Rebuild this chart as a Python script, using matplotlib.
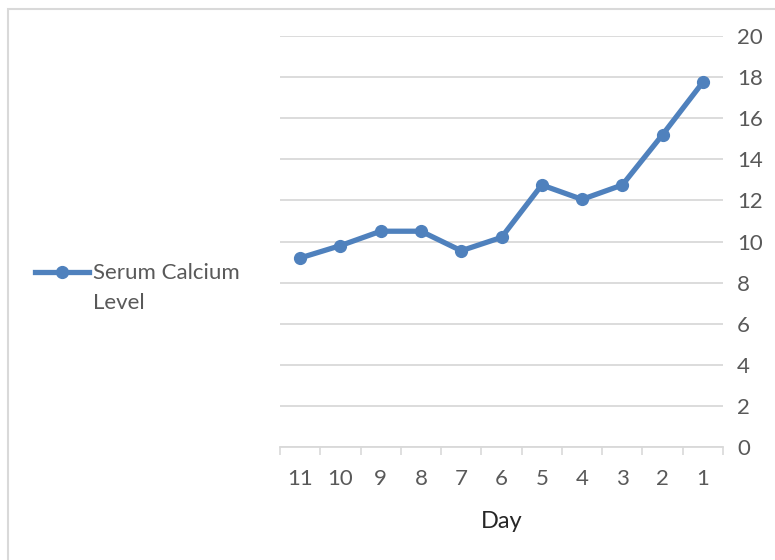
import matplotlib
matplotlib.use("Agg")
import matplotlib.pyplot as plt
import matplotlib.patches as patches
from matplotlib.lines import Line2D
from matplotlib.ticker import MultipleLocator

# data
days = [11, 10, 9, 8, 7, 6, 5, 4, 3, 2, 1]
calcium = [9.2, 9.8, 10.5, 10.5, 9.55, 10.2, 12.75, 12.05, 12.75, 15.2, 17.75]
series_name = "Serum Calcium\nLevel"

line_color = "#4F81BD"
text_color = "#595959"
grid_color = "#D9D9D9"

plt.rcParams["font.family"] = ["Lato", "DejaVu Sans"]

fig = plt.figure(figsize=(7.75, 5.6), dpi=100)
ax = fig.add_axes([280 / 775, 1 - 447 / 560, (723 - 280) / 775, (447 - 36) / 560])

# outer chart border (partly cut off in the original)
fig.patches.append(patches.Rectangle((8 / 775, -0.1), 1.2, 1 - 9 / 560 + 0.1,
                                     transform=fig.transFigure, fill=False,
                                     edgecolor="#D9D9D9", linewidth=1.5))

ax.plot(days, calcium, color=line_color, linewidth=3.8, marker="o",
        markersize=8.5)

ax.set_xlim(11.5, 0.5)
ax.set_ylim(0, 20)
ax.set_xticks(days)
ax.set_xticklabels([str(d) for d in days])
ax.set_xticks([d + 0.5 for d in range(0, 12)], minor=True)
ax.tick_params(axis="x", which="major", length=0, pad=16, labelsize=16, labelcolor=text_color)
ax.tick_params(axis="x", which="minor", length=6, width=1.2, color=grid_color, direction="out")

ax.yaxis.tick_right()
ax.yaxis.set_major_locator(MultipleLocator(2))
ax.tick_params(axis="y", length=0, pad=10, labelsize=16, labelcolor=text_color)
ax.yaxis.grid(True, color=grid_color, linewidth=1.3)
ax.set_axisbelow(True)

for side in ["top", "left", "right"]:
    ax.spines[side].set_visible(False)
ax.spines["bottom"].set_color(grid_color)
ax.spines["bottom"].set_linewidth(1.3)

ax.set_xlabel("Day", fontsize=17, color="#262626", labelpad=16)

# Excel-style legend on the left: sample line aligned with first text line
leg_y = 1 - 272 / 560
fig.add_artist(Line2D([35 / 775, 62 / 775, 89 / 775], [leg_y] * 3,
                      transform=fig.transFigure, color=line_color,
                      linewidth=3.8, marker="o", markersize=8.5, markevery=[1]))
fig.text(93 / 775, leg_y + 9 / 560, series_name, fontsize=16, color=text_color,
         va="top", ha="left", linespacing=1.6, transform=fig.transFigure)

fig.savefig("out.png", dpi=100, facecolor="white")
